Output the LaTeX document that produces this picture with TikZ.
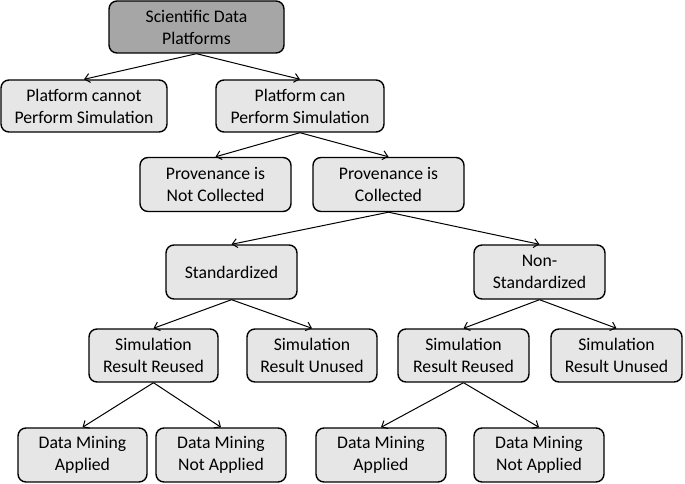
\documentclass[tikz,border=0pt]{standalone}
\usepackage{fontspec}
\setmainfont{Carlito}
\usetikzlibrary{arrows.meta}
\begin{document}
\begin{tikzpicture}[x=1pt,y=-1pt,
  box/.style={draw=black, line width=1.4pt, rounded corners=8pt, fill=boxfill,
    align=center, inner sep=0pt, font=\fontsize{17.7}{22}\selectfont},
  rootbox/.style={box, fill=rootfill},
  conn/.style={line width=1pt, -{Straight Barb[length=5pt,width=9pt]}}]
\definecolor{boxfill}{HTML}{E6E6E6}
\definecolor{rootfill}{HTML}{A6A6A6}
\useasboundingbox (0,0) rectangle (685,484);
\node[rootbox, minimum width=175pt, minimum height=52pt] (root) at (196.5,27) {Scientific Data\\Platforms};
\node[box, minimum width=166pt, minimum height=52pt] (cannot) at (84,106) {Platform cannot\\Perform Simulation};
\node[box, minimum width=168pt, minimum height=52pt] (can) at (300,106) {Platform can\\Perform Simulation};
\node[box, minimum width=151pt, minimum height=54pt] (pnc) at (215.5,184.5) {Provenance is\\Not Collected};
\node[box, minimum width=151pt, minimum height=54pt] (pc) at (388.5,184.5) {Provenance is\\Collected};
\node[box, minimum width=131pt, minimum height=54pt] (std) at (231.5,272) {Standardized};
\node[box, minimum width=131pt, minimum height=54pt] (nstd) at (539.5,272) {Non-\\Standardized};
\node[box, minimum width=129pt, minimum height=53pt] (srr1) at (153.5,355.5) {Simulation\\Result Reused};
\node[box, minimum width=130pt, minimum height=53pt] (sru1) at (312,355.5) {Simulation\\Result Unused};
\node[box, minimum width=131pt, minimum height=53pt] (srr2) at (463.5,355.5) {Simulation\\Result Reused};
\node[box, minimum width=131pt, minimum height=53pt] (sru2) at (616.5,355.5) {Simulation\\Result Unused};
\node[box, minimum width=129pt, minimum height=54pt] (dma1) at (82.5,455) {Data Mining\\Applied};
\node[box, minimum width=130pt, minimum height=54pt] (dmn1) at (221,455) {Data Mining\\Not Applied};
\node[box, minimum width=130pt, minimum height=54pt] (dma2) at (381,455) {Data Mining\\Applied};
\node[box, minimum width=130pt, minimum height=54pt] (dmn2) at (539,455) {Data Mining\\Not Applied};
\draw[conn] (root.south) -- (cannot.north);
\draw[conn] (root.south) -- (can.north);
\draw[conn] (can.south) -- (pnc.north);
\draw[conn] (can.south) -- (pc.north);
\draw[conn] (pc.south) -- (std.north);
\draw[conn] (pc.south) -- (nstd.north);
\draw[conn] (std.south) -- (srr1.north);
\draw[conn] (std.south) -- (sru1.north);
\draw[conn] (nstd.south) -- (srr2.north);
\draw[conn] (nstd.south) -- (sru2.north);
\draw[conn] (srr1.south) -- (dma1.north);
\draw[conn] (srr1.south) -- (dmn1.north);
\draw[conn] (srr2.south) -- (dma2.north);
\draw[conn] (srr2.south) -- (dmn2.north);
\end{tikzpicture}
\end{document}
